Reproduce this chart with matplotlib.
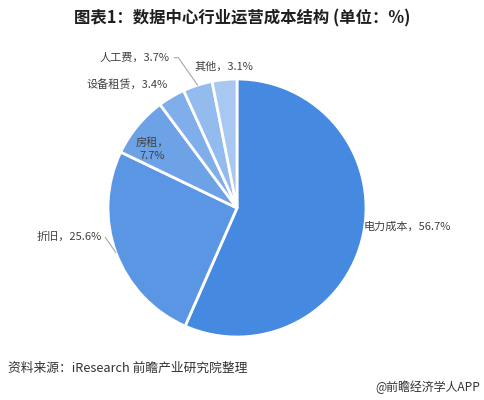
import numpy as np
import matplotlib
matplotlib.use("Agg")
import matplotlib.pyplot as plt

plt.rcParams["font.family"] = ["Noto Sans CJK SC", "DejaVu Sans"]

categories = ["电力成本", "折旧", "房租", "设备租赁", "人工费", "其他"]
shares = [56.7, 25.6, 7.7, 3.4, 3.7, 3.1]
colors = ["#4589E0", "#5A96E3", "#6DA2E6", "#80AEEA", "#94BBED", "#A8C8F1"]

# label anchor (in pie radii from centre), alignment, leader line, line break
LABEL_LAYOUT = [
    ((0.985, -0.145), "left", False, False),
    ((-1.05, -0.22), "right", True, False),
    ((-0.66, 0.455), "center", False, True),
    ((-0.535, 0.955), "right", False, False),
    ((-0.52, 1.165), "right", True, False),
    ((-0.10, 1.095), "center", False, False),
]

W, H = 485, 400
CX, CY, R = 237, H - 208, 129

fig = plt.figure(figsize=(4.85, 4.0), dpi=100)
ax = fig.add_axes([0, 0, 1, 1])

wedges, _ = ax.pie(shares, colors=colors, startangle=90, counterclock=False,
                   center=(CX, CY), radius=R,
                   wedgeprops=dict(edgecolor="white", linewidth=2))
ax.set_xlim(0, W)
ax.set_ylim(0, H)
ax.set_aspect("equal")
ax.axis("off")

for w, cat, val, (pos, ha, leader, wrap) in zip(wedges, categories, shares, LABEL_LAYOUT):
    mid = np.deg2rad((w.theta1 + w.theta2) / 2)
    edge = (CX + R * np.cos(mid), CY + R * np.sin(mid))
    sep = "，\n" if wrap else "，"
    text = f"{cat}{sep}{val:.1f}%"
    tx, ty = CX + pos[0] * R, CY + pos[1] * R
    if leader:
        ax.annotate(text, xy=edge, xytext=(tx, ty), ha=ha, va="center",
                    fontsize=8, color="#404040",
                    arrowprops=dict(arrowstyle="-", color="#a8a8a8", lw=0.8,
                                    shrinkA=1, shrinkB=0,
                                    connectionstyle="angle,angleA=0,angleB=125,rad=0"))
    else:
        ax.text(tx, ty, text, ha=ha, va="center", fontsize=8, color="#404040",
                linespacing=1.4)

fig.text(0.5, 1 - 18 / H, "图表1：数据中心行业运营成本结构 (单位：%)",
         ha="center", va="center", fontsize=11.8, fontweight="bold", color="#1f1f1f")
fig.text(8 / W, 1 - 368 / H, "资料来源：iResearch 前瞻产业研究院整理",
         ha="left", va="center", fontsize=9.2, color="#333333")
fig.text(480 / W, 1 - 387 / H, "@前瞻经济学人APP",
         ha="right", va="center", fontsize=8.6, color="#333333")

fig.savefig("out.png", dpi=100, facecolor="white")
